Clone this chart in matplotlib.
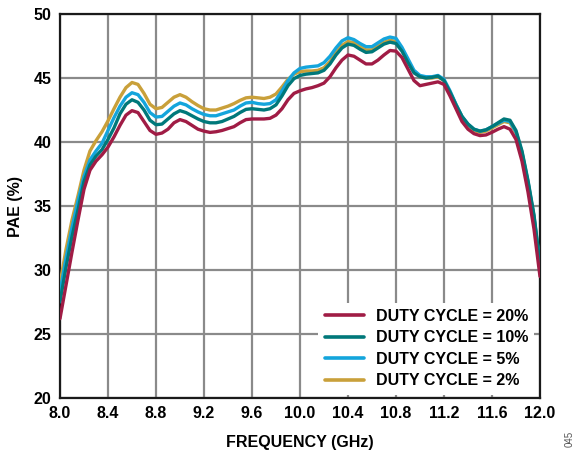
import matplotlib
matplotlib.use("Agg")
import matplotlib.pyplot as plt

plt.rcParams["font.family"] = ["Liberation Sans", "DejaVu Sans"]
plt.rcParams["font.weight"] = "bold"

# frequency samples, 8.00 .. 12.00 GHz in 0.05 GHz steps
freq = [round(8.0 + 0.05 * i, 2) for i in range(81)]

pae_20 = [26.2, 28.8, 31.4, 33.9, 36.3, 37.8, 38.5, 39.0, 39.6, 40.4,
          41.3, 42.1, 42.45, 42.3, 41.6, 40.9, 40.6, 40.7, 41.0, 41.5,
          41.75, 41.6, 41.3, 41.0, 40.85, 40.75, 40.8, 40.9, 41.05, 41.2,
          41.5, 41.75, 41.8, 41.8, 41.8, 41.85, 42.1, 42.6, 43.3, 43.8,
          44.0, 44.15, 44.25, 44.4, 44.6, 45.1, 45.8, 46.4, 46.8, 46.7,
          46.4, 46.1, 46.1, 46.4, 46.8, 47.15, 47.1, 46.6, 45.7, 44.8,
          44.4, 44.5, 44.6, 44.7, 44.5, 43.6, 42.6, 41.6, 41.0, 40.65,
          40.5, 40.55, 40.76, 41.0, 41.2, 41.0, 40.2, 38.5, 36.1, 33.2, 29.5]

pae_10 = [27.5, 30.2, 32.6, 34.7, 36.9, 38.2, 38.9, 39.4, 40.2, 41.1,
          42.2, 42.95, 43.3, 43.1, 42.5, 41.7, 41.35, 41.4, 41.8, 42.2,
          42.45, 42.3, 42.05, 41.8, 41.6, 41.5, 41.5, 41.6, 41.8, 42.0,
          42.3, 42.55, 42.6, 42.55, 42.5, 42.6, 42.9, 43.6, 44.4, 44.95,
          45.2, 45.3, 45.35, 45.4, 45.6, 46.1, 46.8, 47.35, 47.65, 47.55,
          47.25, 47.0, 47.05, 47.35, 47.65, 47.8, 47.7, 47.1, 46.2, 45.4,
          45.1, 45.0, 45.05, 45.15, 44.8, 43.9, 42.9, 42.0, 41.4, 41.0,
          40.85, 40.95, 41.2, 41.5, 41.8, 41.7, 40.9, 39.3, 37.0, 34.3, 30.5]

pae_5 = [28.3, 30.9, 33.3, 35.4, 37.3, 38.6, 39.3, 39.9, 40.9, 41.9,
         42.8, 43.5, 43.85, 43.7, 43.1, 42.3, 41.95, 42.0, 42.4, 42.8,
         43.05, 42.9, 42.6, 42.35, 42.15, 42.05, 42.05, 42.2, 42.35, 42.5,
         42.8, 43.05, 43.1, 43.0, 42.95, 43.0, 43.3, 44.0, 44.8, 45.4,
         45.75, 45.85, 45.9, 45.95, 46.2, 46.7, 47.35, 47.9, 48.15, 48.0,
         47.7, 47.45, 47.45, 47.75, 48.05, 48.2, 48.1, 47.4, 46.5, 45.6,
         45.2, 45.1, 45.1, 45.2, 44.9, 44.0, 42.95, 42.0, 41.4, 41.0,
         40.85, 40.95, 41.2, 41.45, 41.7, 41.6, 40.8, 39.2, 36.9, 34.2, 30.4]

pae_2 = [28.9, 31.6, 33.9, 35.8, 37.8, 39.3, 40.1, 40.8, 41.65, 42.6,
         43.5, 44.25, 44.65, 44.5, 43.8, 42.95, 42.6, 42.7, 43.1, 43.5,
         43.7, 43.5, 43.15, 42.85, 42.6, 42.5, 42.5, 42.65, 42.8, 43.0,
         43.25, 43.45, 43.5, 43.45, 43.4, 43.5, 43.75, 44.3, 44.9, 45.3,
         45.5, 45.55, 45.55, 45.6, 45.8, 46.3, 47.0, 47.55, 47.85, 47.75,
         47.45, 47.2, 47.2, 47.5, 47.8, 47.95, 47.85, 47.2, 46.3, 45.5,
         45.1, 45.0, 45.0, 45.1, 44.8, 43.9, 42.9, 41.95, 41.3, 40.9,
         40.75, 40.85, 41.1, 41.35, 41.6, 41.5, 40.7, 39.1, 36.8, 34.1, 30.3]

labels = ["DUTY CYCLE = 20%", "DUTY CYCLE = 10%", "DUTY CYCLE = 5%", "DUTY CYCLE = 2%"]
series = [pae_20, pae_10, pae_5, pae_2]
colors = ["#A01C45", "#00787A", "#14A5DC", "#C9A03A"]
zorders = [6, 5, 4, 3]

x_ticks = [8.0, 8.4, 8.8, 9.2, 9.6, 10.0, 10.4, 10.8, 11.2, 11.6, 12.0]
y_ticks = [20, 25, 30, 35, 40, 45, 50]

fig = plt.figure(figsize=(5.79, 4.55), dpi=100)
ax = fig.add_axes([0.1036, 0.1253, 0.829, 0.8439])

for y, c, lab, z in zip(series, colors, labels, zorders):
    ax.plot(freq, y, color=c, lw=2.4, label=lab, zorder=z,
            solid_capstyle="round", solid_joinstyle="round")

ax.set_xlim(8.0, 12.0)
ax.set_ylim(20, 50)
ax.set_xticks(x_ticks)
ax.set_xticklabels([f"{t:.1f}" for t in x_ticks])
ax.set_yticks(y_ticks)
ax.tick_params(length=0, labelsize=11.5, pad=6)
ax.grid(True, color="#8a8a8a", lw=1.6, zorder=1)
ax.set_axisbelow(True)
for s in ax.spines.values():
    s.set_linewidth(1.6)
    s.set_color("#1a1a1a")

ax.set_xlabel("FREQUENCY (GHz)", fontsize=11.5, fontweight="bold", labelpad=10)
ax.set_ylabel("PAE (%)", fontsize=11.5, fontweight="bold", labelpad=8)

leg = ax.legend(loc="lower right", bbox_to_anchor=(1.005, -0.012), fontsize=11.5,
                frameon=True, fancybox=False, edgecolor="none", facecolor="white",
                framealpha=1.0, handlelength=2.5, handletextpad=0.7,
                labelspacing=0.4, borderpad=0.4)
leg.set_zorder(10)
for h in leg.get_lines():
    h.set_linewidth(2.6)

fig.text(0.984, 0.035, "045", rotation=90, fontsize=7, fontweight="normal",
         color="#555555", ha="center", va="center")

fig.savefig("out.png", dpi=100)
